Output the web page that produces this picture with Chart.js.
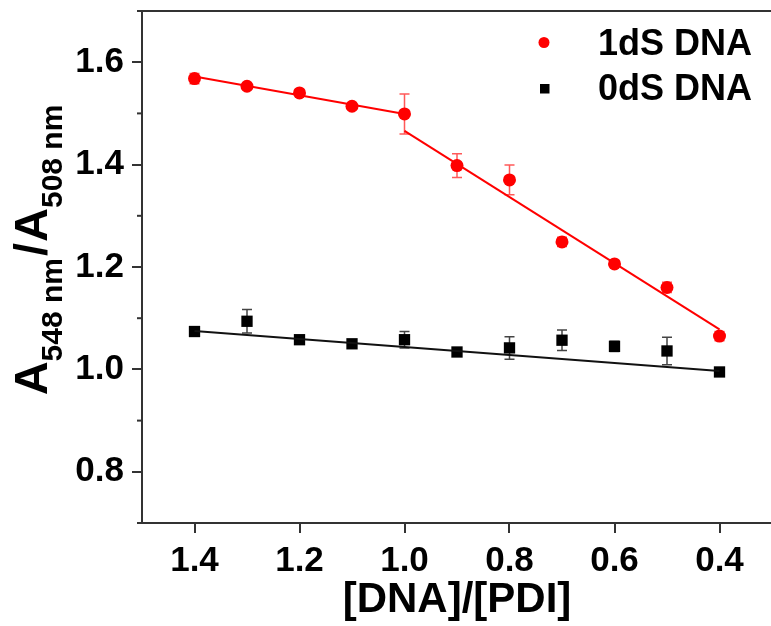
<!DOCTYPE html>
<html>
<head>
<meta charset="utf-8">
<script src="https://cdn.jsdelivr.net/npm/chart.js@4.4.1/dist/chart.umd.min.js"></script>
<style>
  html, body { margin: 0; padding: 0; background: #fff; overflow: hidden; }
  #wrap { width: 780px; height: 626px; }
</style>
</head>
<body>
<div id="wrap"><canvas id="canvas" width="780" height="626"></canvas></div>
<script>
// [DNA]/[PDI] ratios (x)
var ratio = [1.4, 1.3, 1.2, 1.1, 1.0, 0.9, 0.8, 0.7, 0.6, 0.5, 0.4];

// 1dS DNA
var ds1 = [1.568, 1.553, 1.540, 1.514, 1.499, 1.398, 1.370, 1.249, 1.206, 1.160, 1.065];
var ds1Err = [0.010, 0.006, 0.006, 0.006, 0.039, 0.023, 0.029, 0.009, 0.006, 0.010, 0.009];

// 0dS DNA
var ds0 = [1.074, 1.094, 1.058, 1.050, 1.058, 1.034, 1.042, 1.057, 1.045, 1.036, 0.995];
var ds0Err = [0.006, 0.023, 0.005, 0.008, 0.016, 0.006, 0.022, 0.020, 0.010, 0.027, 0.004];

// fitted lines (end points)
var fit1aX = [1.4, 1.0], fit1aY = [1.572, 1.499];
var fit1bX = [1.0, 0.4], fit1bY = [1.466, 1.078];
var fit0X = [1.4, 0.4], fit0Y = [1.075, 0.997];

// axes
var xTicks = [1.4, 1.2, 1.0, 0.8, 0.6, 0.4];
var yTicks = [0.8, 1.0, 1.2, 1.4, 1.6];
var yMinor = [0.7, 0.9, 1.1, 1.3, 1.5, 1.7];

var legendLabels = ["1dS DNA", "0dS DNA"];

var RED = "#ff0000";
var BLACK = "#000000";
var AXIS = "#333333";
var FONT = "'Liberation Sans', Arial, sans-serif";

function pts(xs, ys) {
    var out = [];
    for (var i = 0; i < xs.length; i++) out.push({x: xs[i], y: ys[i]});
    return out;
}

// error bars, drawn under the markers
var errorBars = {
    id: 'errorBars',
    beforeDatasetsDraw: function(chart) {
        var ctx = chart.ctx;
        var xs = chart.scales.x, ys = chart.scales.y;
        var sets = [
            {vals: ds1, err: ds1Err, color: "rgba(255,60,60,0.85)"},
            {vals: ds0, err: ds0Err, color: "#444444"}
        ];
        ctx.save();
        ctx.lineWidth = 1.5;
        sets.forEach(function(s) {
            ctx.strokeStyle = s.color;
            for (var i = 0; i < ratio.length; i++) {
                var px = xs.getPixelForValue(ratio[i]);
                var top = ys.getPixelForValue(s.vals[i] + s.err[i]);
                var bot = ys.getPixelForValue(s.vals[i] - s.err[i]);
                ctx.beginPath();
                ctx.moveTo(px, top); ctx.lineTo(px, bot);
                ctx.moveTo(px - 5, top); ctx.lineTo(px + 5, top);
                ctx.moveTo(px - 5, bot); ctx.lineTo(px + 5, bot);
                ctx.stroke();
            }
        });
        ctx.restore();
    }
};

// frame top line, minor ticks, y title with subscripts, legend
var decorations = {
    id: 'decorations',
    afterDraw: function(chart) {
        var ctx = chart.ctx;
        var area = chart.chartArea;
        var ys = chart.scales.y;
        ctx.save();
        ctx.strokeStyle = AXIS;
        ctx.lineWidth = 2;
        ctx.beginPath();
        ctx.moveTo(area.left - 1, area.top);
        ctx.lineTo(area.right + 1, area.top);
        ctx.stroke();

        // minor y ticks
        yMinor.forEach(function(v) {
            var py = ys.getPixelForValue(v);
            ctx.beginPath();
            ctx.moveTo(area.left - 5, py);
            ctx.lineTo(area.left, py);
            ctx.stroke();
        });

        // y axis title: A548 nm/A508 nm
        var parts = [
            {t: "A", big: true}, {t: "548 nm", big: false},
            {t: "/", big: true},
            {t: "A", big: true}, {t: "508 nm", big: false}
        ];
        var bigF = "bold 47px " + FONT, smallF = "bold 30px " + FONT;
        var total = 0;
        parts.forEach(function(p) {
            ctx.font = p.big ? bigF : smallF;
            p.w = ctx.measureText(p.t).width + (p.t === "/" ? 3 : 0);
            total += p.w;
        });
        ctx.translate(47, 250 + total / 2);
        ctx.rotate(-Math.PI / 2);
        ctx.fillStyle = "#000";
        ctx.textBaseline = "alphabetic";
        var x = 0;
        parts.forEach(function(p) {
            ctx.font = p.big ? bigF : smallF;
            ctx.fillText(p.t, x + (p.t === "/" ? 2 : 0), p.big ? 0 : 15);
            x += p.w;
        });
        ctx.restore();

        // legend
        ctx.save();
        ctx.fillStyle = RED;
        ctx.beginPath();
        ctx.arc(544, 42.5, 5.5, 0, Math.PI * 2);
        ctx.fill();
        ctx.fillStyle = BLACK;
        ctx.fillRect(540, 84, 9.5, 9.5);
        ctx.font = "bold 36px " + FONT;
        ctx.textBaseline = "alphabetic";
        ctx.fillText(legendLabels[0], 598, 55);
        ctx.fillText(legendLabels[1], 598, 100);
        ctx.restore();
    }
};

var ctx = document.getElementById("canvas").getContext("2d");
new Chart(ctx, {
    type: 'scatter',
    data: {
        datasets: [
            { data: pts(fit1aX, fit1aY), showLine: true, borderColor: RED, borderWidth: 2, pointRadius: 0 },
            { data: pts(fit1bX, fit1bY), showLine: true, borderColor: RED, borderWidth: 2, pointRadius: 0 },
            { data: pts(fit0X, fit0Y), showLine: true, borderColor: "#111", borderWidth: 2, pointRadius: 0 },
            { label: legendLabels[0], data: pts(ratio, ds1), pointStyle: 'circle', pointRadius: 6.5,
              backgroundColor: RED, borderColor: RED, borderWidth: 0 },
            { label: legendLabels[1], data: pts(ratio, ds0), pointStyle: 'rect', pointRadius: 8,
              backgroundColor: BLACK, borderColor: BLACK, borderWidth: 0 }
        ]
    },
    options: {
        responsive: false,
        animation: false,
        layout: { padding: { top: 11, right: 2, left: 0, bottom: 0 } },
        plugins: { legend: { display: false }, tooltip: { enabled: false } },
        scales: {
            x: {
                type: 'linear',
                reverse: true,
                min: 0.3, max: 1.5,
                afterBuildTicks: function(s) { s.ticks = xTicks.map(function(v) { return {value: v}; }); },
                afterFit: function(s) { s.height = 103; s.paddingLeft = 0; s.paddingRight = 0; },
                grid: { drawOnChartArea: false, drawTicks: true, tickLength: 10, color: AXIS, lineWidth: 2 },
                border: { display: true, color: AXIS, width: 2 },
                ticks: {
                    color: "#000", padding: 7, maxRotation: 0, autoSkip: false,
                    font: { family: FONT, size: 35, weight: 'bold' },
                    callback: function(v) { return v.toFixed(1); }
                },
                title: {
                    display: true, text: "[DNA]/[PDI]", color: "#000",
                    font: { family: FONT, size: 42, weight: 'bold' },
                    padding: { top: 0, bottom: 0 }
                }
            },
            y: {
                type: 'linear',
                min: 0.7, max: 1.7,
                afterBuildTicks: function(s) { s.ticks = yTicks.map(function(v) { return {value: v}; }); },
                afterFit: function(s) { s.width = 142; s.paddingTop = 0; s.paddingBottom = 0; },
                grid: { drawOnChartArea: false, drawTicks: true, tickLength: 10, color: AXIS, lineWidth: 2 },
                border: { display: true, color: AXIS, width: 2 },
                ticks: {
                    color: "#000", padding: 8,
                    font: { family: FONT, size: 35, weight: 'bold' },
                    callback: function(v) { return v.toFixed(1); }
                }
            }
        }
    },
    plugins: [errorBars, decorations]
});
</script>
</body>
</html>
